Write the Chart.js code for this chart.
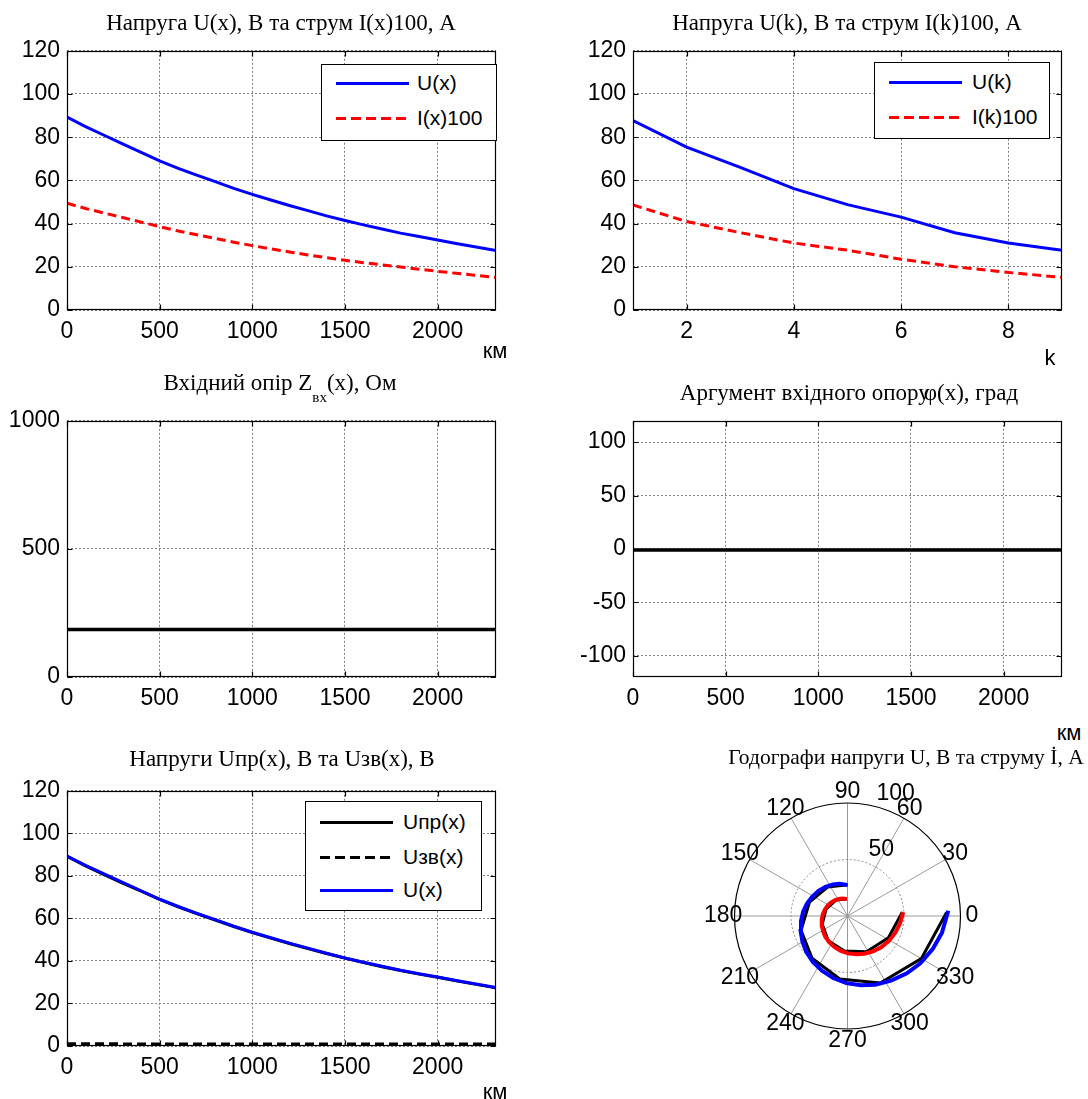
<!DOCTYPE html>
<html><head><meta charset="utf-8">
<script src="https://cdn.jsdelivr.net/npm/chart.js@4.4.0/dist/chart.umd.min.js"></script>
<style>
body{margin:0;background:#fff;width:1088px;height:1099px;position:relative;overflow:hidden;font-family:"Liberation Sans",Arial,sans-serif;color:#000;}
canvas{position:absolute;}
.t{position:absolute;font-family:"Liberation Serif","Times New Roman",serif;font-size:23px;white-space:nowrap;transform:translate(-50%,-50%);line-height:1;}
.t sub{font-size:15px;vertical-align:-12px;line-height:0;}
.u{position:absolute;font-size:22px;white-space:nowrap;transform:translate(-50%,-50%);line-height:1;}
.lg{position:absolute;border:1px solid #000;background:#fff;box-sizing:border-box;}
.ls{position:absolute;height:3px;}
.lt{position:absolute;font-size:21px;line-height:24px;white-space:nowrap;}
</style>
</head><body>
<canvas id="c1"></canvas><canvas id="c2"></canvas><canvas id="c3"></canvas>
<canvas id="c4"></canvas><canvas id="c5"></canvas><canvas id="c6"></canvas>

<div class="t" style="left:281px;top:22px">Напруга U(x), В та струм I(x)100, А</div>
<div class="t" style="left:847px;top:22px">Напруга U(k), В та струм I(k)100, А</div>
<div class="t" style="left:280px;top:384px">Вхідний опір Z<sub>вх</sub>(x), Ом</div>
<div class="t" style="left:849px;top:392px">Аргумент вхідного опору<span style="margin-left:-6px">φ</span>(x), град</div>
<div class="t" style="left:282px;top:758px">Напруги Uпр(x), В та Uзв(x), В</div>
<div class="t" style="left:906px;top:758px;font-size:21.5px">Годографи напруги U, В та струму İ, А</div>

<div class="u" style="left:495px;top:351px">км</div>
<div class="u" style="left:1050px;top:358px">k</div>
<div class="u" style="left:1069px;top:733px">км</div>
<div class="u" style="left:495px;top:1092px">км</div>

<div class="lg" style="left:321px;top:64px;width:176px;height:77px">
  <div class="ls" style="left:14px;top:17px;width:73px;background:#0000ff"></div>
  <div class="lt" style="left:95px;top:6px">U(x)</div>
  <div class="ls" style="left:14px;top:52px;width:73px;background:repeating-linear-gradient(to right,#ff0000 0 10px,transparent 10px 15px)"></div>
  <div class="lt" style="left:95px;top:41px">I(x)100</div>
</div>
<div class="lg" style="left:874px;top:62px;width:176px;height:77px">
  <div class="ls" style="left:14px;top:18px;width:73px;background:#0000ff"></div>
  <div class="lt" style="left:97px;top:7px">U(k)</div>
  <div class="ls" style="left:14px;top:53px;width:73px;background:repeating-linear-gradient(to right,#ff0000 0 10px,transparent 10px 15px)"></div>
  <div class="lt" style="left:97px;top:42px">I(k)100</div>
</div>
<div class="lg" style="left:305px;top:801px;width:177px;height:110px">
  <div class="ls" style="left:14px;top:19px;width:73px;background:#000"></div>
  <div class="lt" style="left:97px;top:8px">Uпр(x)</div>
  <div class="ls" style="left:14px;top:54px;width:73px;background:repeating-linear-gradient(to right,#000 0 10px,transparent 10px 15px)"></div>
  <div class="lt" style="left:97px;top:43px">Uзв(x)</div>
  <div class="ls" style="left:14px;top:87px;width:73px;background:#0000ff"></div>
  <div class="lt" style="left:97px;top:76px">U(x)</div>
</div>

<script>
// ---------- data ----------
const xKm = [0,100,200,300,400,500,600,700,800,900,1000,1100,1200,1300,1400,1500,1600,1700,1800,1900,2000,2100,2200,2315];
const uX = [89.3,84.9,80.9,76.9,73.0,69.0,65.6,62.4,59.4,56.3,53.5,50.9,48.4,46.0,43.6,41.4,39.4,37.5,35.6,34.0,32.4,30.8,29.3,27.5];
const iX100 = [49.4,47.0,44.9,42.8,40.7,38.6,36.6,34.8,33.1,31.4,29.8,28.3,26.9,25.5,24.2,23.0,21.9,20.9,19.9,18.9,17.9,17.0,16.1,15.1];
const kIdx = [1,2,3,4,5,6,7,8,9];
const uK = [87.7,75.4,66.0,56.2,48.8,43.0,35.8,31.0,27.7];
const iK100 = [48.6,41.0,35.8,31.0,27.7,23.5,20.0,17.4,15.1];
const zIn = [185,185,185,185,185,185,185,185,185,185,185,185,185,185,185,185,185,185,185,185,185,185,185,185];
const phiIn = [-1,-1,-1,-1,-1,-1,-1,-1,-1,-1,-1,-1,-1,-1,-1,-1,-1,-1,-1,-1,-1,-1,-1,-1];
const uPr = [89.2,84.7,80.6,76.6,72.8,68.9,65.4,62.3,59.2,56.2,53.3,50.7,48.2,45.8,43.5,41.3,39.3,37.3,35.5,33.8,32.3,30.7,29.1,27.4];
const uZv = [1.0,1.0,1.0,1.0,0.9,0.9,0.9,0.9,0.9,0.9,0.9,0.9,0.9,0.9,0.9,0.9,0.9,0.9,0.9,0.9,0.9,0.9,0.9,0.9];
// phases (degrees) for the hodographs
const uPhaseX = [3,-10,-21,-33,-44,-56,-68,-79,-91,-103,-115,-127,-139,-150,-162,-174,-186,-197,-209,-221,-233,-245,-256,-270];
const iPhaseX = [4,-8,-19,-31,-43,-54,-66,-77,-89,-101,-113,-125,-137,-148,-160,-172,-184,-195,-207,-219,-231,-243,-254,-268];
const uPhaseK = [2,-30,-64,-97,-130,-163,-200,-236,-270];
const iPhaseK = [4,-28,-62,-95,-128,-162,-198,-234,-268];
// ticks
const xTicks = [0,500,1000,1500,2000];
const kTicks = [2,4,6,8];
const yTicksU = [0,20,40,60,80,100,120];
const yTicksZ = [0,500,1000];
const yTicksPhi = [-100,-50,0,50,100];
const polarAngles = [0,30,60,90,120,150,180,210,240,270,300,330];
const polarRings = [50,100];

// ---------- helpers ----------
Chart.defaults.font.family = '"Liberation Sans", Arial, sans-serif';
Chart.defaults.font.size = 23;
Chart.defaults.color = '#000';

const pts = (xs, ys) => xs.map((x,i)=>({x:x, y:ys[i]}));
const polarPts = (rs, ph) => rs.map((r,i)=>({x:r*Math.cos(ph[i]*Math.PI/180), y:r*Math.sin(ph[i]*Math.PI/180)}));

const boxPlugin = {
  id:'mbox',
  afterDatasetsDraw(chart){
    const {ctx, chartArea:a, scales:{x,y}} = chart;
    const L=Math.round(a.left)+0.5, R=Math.round(a.right)-0.5, T=Math.round(a.top)+0.5, B=Math.round(a.bottom)-0.5;
    ctx.save();
    ctx.strokeStyle='#000'; ctx.lineWidth=1.2; ctx.setLineDash([]);
    ctx.strokeRect(L, T, R-L, B-T);
    ctx.beginPath();
    x.ticks.forEach(t=>{const p=Math.round(x.getPixelForValue(t.value))+0.5; ctx.moveTo(p,B); ctx.lineTo(p,B-5); ctx.moveTo(p,T); ctx.lineTo(p,T+5);});
    y.ticks.forEach(t=>{const p=Math.round(y.getPixelForValue(t.value))+0.5; ctx.moveTo(L,p); ctx.lineTo(L+5,p); ctx.moveTo(R,p); ctx.lineTo(R-5,p);});
    ctx.stroke();
    ctx.restore();
  }
};

// note: in Chart.js the first dataset is drawn on top
function cart(id, g, datasets, xr, xt, yr, yt){
  const cv = document.getElementById(id);
  cv.width = g.cw; cv.height = g.ch;
  cv.style.left = g.cl+'px'; cv.style.top = g.ct+'px';
  const common = {
    grid:{color:'#7d7d7d', lineWidth:1, drawTicks:false},
    border:{display:false, dash:[2,2]},
  };
  new Chart(cv, {
    type:'scatter',
    data:{datasets: datasets.map(d=>Object.assign({showLine:true, pointRadius:0, fill:false, tension:0}, d))},
    options:{
      responsive:false, animation:false, devicePixelRatio:1,
      layout:{padding:{top:g.T-g.ct, right:g.cl+g.cw-g.R, left:0, bottom:0}},
      plugins:{legend:{display:false}, tooltip:{enabled:false}},
      scales:{
        x:Object.assign({}, common, {type:'linear', min:xr[0], max:xr[1],
          afterBuildTicks:s=>{s.ticks = xt.map(v=>({value:v}));},
          afterFit:s=>{s.height = g.ct+g.ch-g.B;},
          ticks:{padding:8, maxRotation:0, autoSkip:false, callback:v=>String(v)}}),
        y:Object.assign({}, common, {type:'linear', min:yr[0], max:yr[1],
          afterBuildTicks:s=>{s.ticks = yt.map(v=>({value:v}));},
          afterFit:s=>{s.width = g.L-g.cl;},
          ticks:{padding:7, autoSkip:false, callback:v=>String(v)}})
      }
    },
    plugins:[boxPlugin]
  });
}

const blue='#0000ff', red='#ff0000', black='#000000';

cart('c1', {cl:0, ct:30, cw:545, ch:318, L:67, T:50, R:496, B:310}, [
  {label:'U(x)', data:pts(xKm,uX), borderColor:blue, borderWidth:3},
  {label:'I(x)100', data:pts(xKm,iX100), borderColor:red, borderWidth:3, borderDash:[9,5]}
], [0,2315], xTicks, [0,120], yTicksU);

cart('c2', {cl:560, ct:30, cw:528, ch:318, L:633, T:50, R:1062, B:310}, [
  {label:'U(k)', data:pts(kIdx,uK), borderColor:blue, borderWidth:3},
  {label:'I(k)100', data:pts(kIdx,iK100), borderColor:red, borderWidth:3, borderDash:[9,5]}
], [1,9], kTicks, [0,120], yTicksU);

cart('c3', {cl:0, ct:400, cw:545, ch:315, L:67, T:418, R:496, B:677}, [
  {label:'Zвх(x)', data:pts(xKm,zIn), borderColor:black, borderWidth:3.5}
], [0,2315], xTicks, [0,1000], yTicksZ);

cart('c4', {cl:560, ct:400, cw:528, ch:315, L:633, T:419, R:1062, B:677}, [
  {label:'φ(x)', data:pts(xKm,phiIn), borderColor:black, borderWidth:3.5}
], [0,2315], xTicks, [-120,120], yTicksPhi);

cart('c5', {cl:0, ct:770, cw:545, ch:315, L:67, T:787, R:496, B:1046}, [
  {label:'U(x)', data:pts(xKm,uX), borderColor:blue, borderWidth:3},
  {label:'Uпр(x)', data:pts(xKm,uPr), borderColor:black, borderWidth:3},
  {label:'Uзв(x)', data:pts(xKm,uZv), borderColor:black, borderWidth:3, borderDash:[9,5]}
], [0,2315], xTicks, [0,120], yTicksU);

// ---------- polar (hodographs) ----------
const pg = {cl:633, ct:766, cw:429, ch:300};
const pxPerUnit = 1.13;
const polarGrid = {
  id:'polarGrid',
  beforeDatasetsDraw(chart){
    const {ctx, scales:{x,y}} = chart;
    const cx = x.getPixelForValue(0), cy = y.getPixelForValue(0);
    const pr = r => x.getPixelForValue(r) - cx;
    const R = pr(polarRings[polarRings.length-1]);
    ctx.save();
    ctx.lineWidth = 1;
    ctx.strokeStyle = '#9a9a9a';
    polarAngles.forEach(a=>{
      if (a >= 180) return;
      const t = a*Math.PI/180, c = Math.cos(t), s = Math.sin(t);
      ctx.beginPath(); ctx.moveTo(cx+R*c, cy-R*s); ctx.lineTo(cx-R*c, cy+R*s); ctx.stroke();
    });
    polarRings.forEach((r,i)=>{
      ctx.beginPath(); ctx.arc(cx, cy, pr(r), 0, 2*Math.PI);
      if (i === polarRings.length-1) { ctx.setLineDash([]); ctx.strokeStyle='#000'; ctx.lineWidth=1.2; }
      else { ctx.setLineDash([2,2]); ctx.strokeStyle='#8a8a8a'; ctx.lineWidth=1; }
      ctx.stroke();
    });
    ctx.setLineDash([]);
    ctx.fillStyle = '#000';
    ctx.font = '23px "Liberation Sans", Arial, sans-serif';
    ctx.textAlign = 'center'; ctx.textBaseline = 'middle';
    polarAngles.forEach(a=>{
      const t = a*Math.PI/180;
      ctx.fillText(String(a), cx+1.1*R*Math.cos(t), cy-1.1*R*Math.sin(t));
    });
    ctx.textAlign = 'left'; ctx.textBaseline = 'bottom';
    const t82 = 82*Math.PI/180;
    polarRings.forEach(r=>{
      const rr = pr(r + 2.5);
      ctx.fillText('  '+r, cx+rr*Math.cos(t82), cy-rr*Math.sin(t82)+4);
    });
    ctx.restore();
  }
};
(function(){
  const cv = document.getElementById('c6');
  cv.width = pg.cw; cv.height = pg.ch;
  cv.style.left = pg.cl+'px'; cv.style.top = pg.ct+'px';
  const hx = pg.cw/2/pxPerUnit, hy = pg.ch/2/pxPerUnit;
  new Chart(cv, {
    type:'scatter',
    data:{datasets:[
      {label:'I(x)100', data:polarPts(iX100,iPhaseX), borderColor:red, borderWidth:4},
      {label:'U(x)', data:polarPts(uX,uPhaseX), borderColor:blue, borderWidth:4},
      {label:'I(k)100', data:polarPts(iK100,iPhaseK), borderColor:black, borderWidth:3},
      {label:'U(k)', data:polarPts(uK,uPhaseK), borderColor:black, borderWidth:3}
    ].map(d=>Object.assign({showLine:true, pointRadius:0, fill:false, tension:0}, d))},
    options:{
      responsive:false, animation:false, devicePixelRatio:1,
      layout:{padding:0},
      plugins:{legend:{display:false}, tooltip:{enabled:false}},
      scales:{
        x:{type:'linear', display:false, min:-hx, max:hx},
        y:{type:'linear', display:false, min:-hy, max:hy}
      }
    },
    plugins:[polarGrid]
  });
})();
</script>
</body></html>
